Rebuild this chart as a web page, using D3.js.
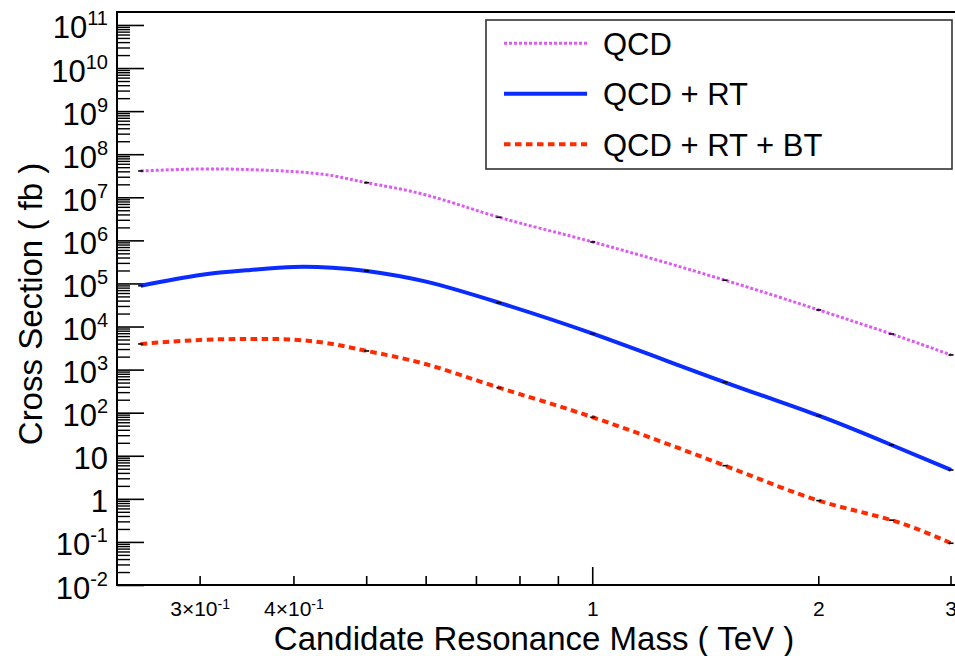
<!DOCTYPE html>
<html>
<head>
<meta charset="utf-8">
<script src="https://cdn.jsdelivr.net/npm/d3@7"></script>
<style>
  body { margin: 0; background: #fff; }
  svg { display: block; font-family: "Liberation Sans", Arial, Helvetica, sans-serif; }
</style>
</head>
<body>
<div class="chart"></div>
<script>
'use strict';

// Data (mass in TeV, cross section in fb)
const mass = [0.25, 0.3, 0.35, 0.4, 0.45, 0.5, 0.6, 0.75, 1, 1.5, 2, 2.5, 3];
const markerMass = [0.25, 0.5, 0.75, 1, 1.5, 2, 2.5, 3];
const qcd = [4.08e7, 4.54e7, 4.38e7, 3.94e7, 3.18e7, 2.18e7, 1.13e7, 3.44e6, 9.18e5, 1.19e5, 2.42e4, 6.71e3, 2.19e3];
const qcdRt = [8.87e4, 1.57e5, 2.06e5, 2.41e5, 2.32e5, 1.95e5, 1.10e5, 3.58e4, 6.82e3, 508, 85.3, 17.8, 4.68];
const qcdRtBt = [3.94e3, 4.88e3, 5.14e3, 4.95e3, 3.94e3, 2.71e3, 1.33e3, 381, 78.3, 5.89, 0.908, 0.32, 0.0931];
const seriesNames = ['QCD', 'QCD + RT', 'QCD + RT + BT'];

// Axis ticks
const yDecades = d3.range(-2, 12);
const xTicks = [0.3, 0.4, 0.5, 0.6, 0.7, 0.8, 0.9, 1, 2, 3];
const xMajor = [1];
const xLabelValues = [0.3, 0.4, 1, 2, 3];
const xLabelBase = ['3×10', '4×10', '1', '2', '3'];
const xLabelExp = ['-1', '-1', '', '', ''];

const w = 955;
const h = 656;
const plotLeft = 117, plotRight = 951, plotTop = 12, plotBottom = 585;

const svg = d3.select('.chart')
  .append('svg')
  .attr('width', w)
  .attr('height', h);

const xScale = d3.scaleLog().domain([0.2325, 3]).range([plotLeft, plotRight]);
const yScale = d3.scaleLog().domain([1e-2, 2e11]).range([plotBottom, plotTop]);

// Y axis: minor ticks (2..9 per decade) and major ticks, pointing inward
const yMinor = [];
yDecades.forEach(e => {
  for (let k = 2; k <= 9; k++) {
    const v = k * Math.pow(10, e);
    if (v < 2e11) yMinor.push(v);
  }
});

svg.append('g')
  .attr('transform', `translate(${plotLeft},0)`)
  .call(d3.axisLeft(yScale).tickValues(yMinor).tickSizeInner(-13).tickSizeOuter(0).tickFormat(() => ''))
  .call(g => g.select('.domain').remove())
  .call(g => g.selectAll('line').attr('stroke', '#000').attr('stroke-width', 1.4));

const yMajorAxis = svg.append('g')
  .attr('transform', `translate(${plotLeft},0)`)
  .call(d3.axisLeft(yScale).tickValues(yDecades.map(e => Math.pow(10, e))).tickSizeInner(-27).tickSizeOuter(0).tickFormat(() => ''))
  .call(g => g.select('.domain').remove())
  .call(g => g.selectAll('line').attr('stroke', '#000').attr('stroke-width', 1.6));

yMajorAxis.selectAll('.tick text').remove();
yMajorAxis.selectAll('.tick').each(function (d) {
  const e = Math.round(Math.log10(d));
  const t = d3.select(this).append('text')
    .attr('x', -9)
    .attr('y', 13)
    .attr('text-anchor', 'end')
    .attr('fill', '#000')
    .style('font-size', '31px');
  if (e === 0) {
    t.text('1');
  } else if (e === 1) {
    t.text('10');
  } else {
    t.append('tspan').text('10');
    t.append('tspan').attr('dy', -13).style('font-size', '20px').text(e);
  }
});

// X axis ticks, pointing inward
const xAxisG = svg.append('g')
  .attr('transform', `translate(0,${plotBottom})`);

xAxisG.selectAll('line')
  .data(xTicks)
  .enter()
  .append('line')
  .attr('x1', d => xScale(d))
  .attr('x2', d => xScale(d))
  .attr('y1', 0)
  .attr('y2', d => xMajor.includes(d) ? -18 : -9)
  .attr('stroke', '#000')
  .attr('stroke-width', 1.6);

const xLabels = xAxisG.selectAll('text')
  .data(xLabelValues)
  .enter()
  .append('text')
  .attr('x', d => xScale(d))
  .attr('y', 31)
  .attr('text-anchor', 'middle')
  .attr('fill', '#000')
  .style('font-size', '21px');

xLabels.append('tspan').text((d, i) => xLabelBase[i]);
xLabels.append('tspan')
  .attr('dy', -7)
  .style('font-size', '14px')
  .text((d, i) => xLabelExp[i]);

// Frame
svg.append('rect')
  .attr('x', plotLeft)
  .attr('y', plotTop)
  .attr('width', 860)
  .attr('height', plotBottom - plotTop)
  .attr('fill', 'none')
  .attr('stroke', '#000')
  .attr('stroke-width', 2);

// Curves
const styles = [
  { color: '#dc5cf2', width: 3, dash: '3,2' },
  { color: '#0a2cff', width: 4, dash: null },
  { color: '#ff2a00', width: 4, dash: '6.5,4.5' }
];
const allSeries = [qcd, qcdRt, qcdRtBt];

const line = d3.line()
  .x(d => xScale(d[0]))
  .y(d => yScale(d[1]))
  .curve(d3.curveNatural);

allSeries.forEach((vals, s) => {
  const pts = mass.map((m, i) => [m, vals[i]]);
  svg.append('path')
    .datum(pts)
    .attr('d', line)
    .attr('fill', 'none')
    .attr('stroke', styles[s].color)
    .attr('stroke-width', styles[s].width)
    .attr('stroke-dasharray', styles[s].dash);

  // little black markers at the computed points
  svg.selectAll(null)
    .data(pts.filter(p => markerMass.includes(p[0])))
    .enter()
    .append('rect')
    .attr('x', d => xScale(d[0]) - 2.5)
    .attr('y', d => yScale(d[1]) - 0.8)
    .attr('width', 5)
    .attr('height', 1.6)
    .attr('fill', '#000');
});

// Legend
const legend = svg.append('g');
legend.append('rect')
  .attr('x', 486)
  .attr('y', 20)
  .attr('width', 466)
  .attr('height', 149)
  .attr('fill', '#fff')
  .attr('stroke', '#333')
  .attr('stroke-width', 1.6);

const rows = legend.selectAll('g.row')
  .data(seriesNames)
  .enter()
  .append('g')
  .attr('class', 'row')
  .attr('transform', (d, i) => `translate(0, ${43.3 + i * 50.5})`);

rows.append('line')
  .attr('x1', 504)
  .attr('x2', 587)
  .attr('stroke', (d, i) => styles[i].color)
  .attr('stroke-width', (d, i) => styles[i].width)
  .attr('stroke-dasharray', (d, i) => styles[i].dash);

rows.append('text')
  .attr('x', 603)
  .attr('y', 11.5)
  .attr('fill', '#000')
  .style('font-size', '31px')
  .text(d => d);

// Axis titles
svg.append('text')
  .attr('x', (plotLeft + plotRight) / 2)
  .attr('y', 650)
  .attr('text-anchor', 'middle')
  .attr('fill', '#000')
  .style('font-size', '33px')
  .text('Candidate Resonance Mass ( TeV )');

svg.append('text')
  .attr('transform', 'translate(42, 304) rotate(-90)')
  .attr('text-anchor', 'middle')
  .attr('fill', '#000')
  .style('font-size', '33px')
  .text('Cross Section ( fb )');
</script>
</body>
</html>
